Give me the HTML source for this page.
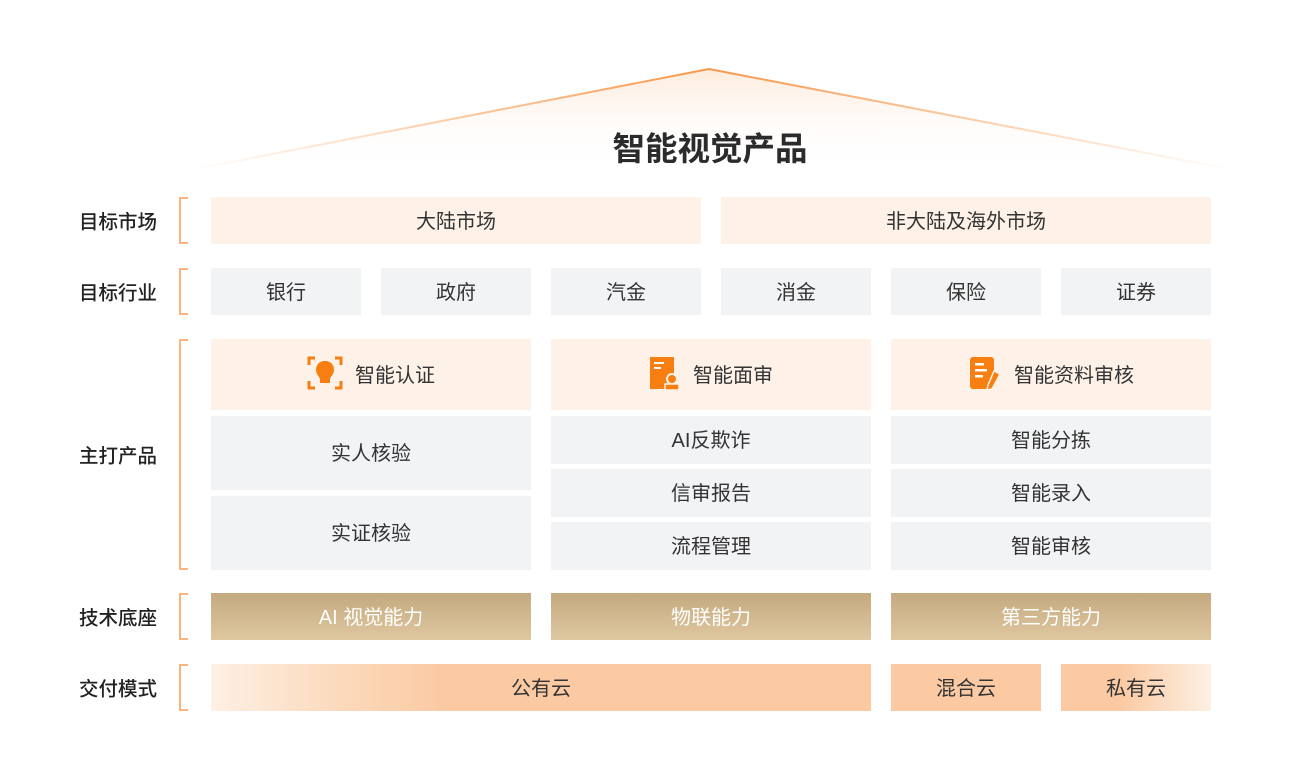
<!DOCTYPE html>
<html><head><meta charset="utf-8"><style>
body{margin:0;width:1295px;height:782px;background:#fff;position:relative;overflow:hidden;font-family:"Liberation Sans","Noto Sans CJK SC",sans-serif;color:#333}
.b{position:absolute;display:flex;align-items:center;justify-content:center;font-size:20px;color:#333;box-sizing:border-box;padding-bottom:3px}
.p{background:#fef1e8}.g{background:#f2f3f5}
.t{background:linear-gradient(#c3a97f,#dfc7a0);color:#fff}
.lab{position:absolute;left:79px;font-size:19.5px;color:#222;font-weight:500;transform:translateY(-50%);margin-top:-1px}
.br{position:absolute;left:179px;width:9px;border:2px solid #f9b47f;border-right:none;box-sizing:border-box}
</style></head><body>
<svg width="1295" height="200" style="position:absolute;left:0;top:0">
<defs>
<linearGradient id="f" x1="0" y1="0" x2="0" y2="1"><stop offset="0" stop-color="#fde9d8" stop-opacity=".9"/><stop offset="1" stop-color="#fff" stop-opacity="0"/></linearGradient>
<linearGradient id="sl" x1="190" y1="0" x2="709" y2="0" gradientUnits="userSpaceOnUse"><stop offset="0" stop-color="#f9a15b" stop-opacity="0"/><stop offset="1" stop-color="#f7974a"/></linearGradient>
<linearGradient id="sr" x1="709" y1="0" x2="1235" y2="0" gradientUnits="userSpaceOnUse"><stop offset="0" stop-color="#f7974a"/><stop offset="1" stop-color="#f9a15b" stop-opacity="0"/></linearGradient>
</defs>
<polygon points="190,170 709,69 1235,170" fill="url(#f)"/>
<line x1="190" y1="170" x2="709" y2="69" stroke="url(#sl)" stroke-width="2"/>
<line x1="709" y1="69" x2="1235" y2="170" stroke="url(#sr)" stroke-width="2"/>
</svg>
<div style="position:absolute;left:510px;width:400px;top:123px;text-align:center;font-size:32.5px;font-weight:bold;color:#2b2b2b">智能视觉产品</div>

<div class="lab" style="top:221px">目标市场</div><div class="br" style="top:197px;height:47px"></div>
<div class="lab" style="top:292px">目标行业</div><div class="br" style="top:268px;height:47px"></div>
<div class="lab" style="top:455px">主打产品</div><div class="br" style="top:339px;height:231px"></div>
<div class="lab" style="top:617px">技术底座</div><div class="br" style="top:593px;height:47px"></div>
<div class="lab" style="top:688px">交付模式</div><div class="br" style="top:664px;height:47px"></div>

<div class="b p" style="left:211px;top:197px;width:490px;height:47px">大陆市场</div>
<div class="b p" style="left:721px;top:197px;width:490px;height:47px">非大陆及海外市场</div>

<div class="b g" style="left:211px;top:268px;width:150px;height:47px">银行</div>
<div class="b g" style="left:381px;top:268px;width:150px;height:47px">政府</div>
<div class="b g" style="left:551px;top:268px;width:150px;height:47px">汽金</div>
<div class="b g" style="left:721px;top:268px;width:150px;height:47px">消金</div>
<div class="b g" style="left:891px;top:268px;width:150px;height:47px">保险</div>
<div class="b g" style="left:1061px;top:268px;width:150px;height:47px">证券</div>

<div class="b p" style="left:211px;top:339px;width:320px;height:71px">
<svg width="36" height="36" viewBox="0 0 36 36" style="margin-right:12px"><path d="M2 10V3h6M28 3h6v7M2 26v7h6M28 33h6v-7" stroke="#f77f12" stroke-width="3" fill="none"/><path d="M18 6c6 0 9 4 9 9 0 4-3 6-4 9v4H13v-4c-1-3-4-5-4-9 0-5 3-9 9-9z" fill="#f77f12"/></svg>智能认证</div>
<div class="b p" style="left:551px;top:339px;width:320px;height:71px">
<svg width="32" height="36" viewBox="0 0 32 36" style="margin-right:12px"><rect x="1" y="2" width="24" height="32" fill="#f77f12"/><rect x="5" y="7" width="10" height="2" fill="#fff"/><rect x="5" y="12" width="7" height="2" fill="#fff"/><circle cx="23" cy="24" r="5" fill="#f77f12" stroke="#fef1e8" stroke-width="2"/><rect x="16" y="29" width="14" height="6" fill="#f77f12" stroke="#fef1e8" stroke-width="1.5"/></svg>智能面审</div>
<div class="b p" style="left:891px;top:339px;width:320px;height:71px">
<svg width="36" height="36" viewBox="0 0 36 36" style="margin-right:10px"><rect x="2" y="2" width="24" height="32" rx="3" fill="#f77f12"/><rect x="7" y="8" width="9" height="2.5" fill="#fff"/><rect x="7" y="14" width="12" height="2.5" fill="#fff"/><rect x="7" y="20" width="8" height="2.5" fill="#fff"/><path d="M26 16l6 3-8 15-5 1 1-5z" fill="#f77f12" stroke="#fef1e8" stroke-width="1.5"/></svg>智能资料审核</div>

<div class="b g" style="left:211px;top:416px;width:320px;height:74px">实人核验</div>
<div class="b g" style="left:211px;top:496px;width:320px;height:74px">实证核验</div>
<div class="b g" style="left:551px;top:416px;width:320px;height:48px">AI反欺诈</div>
<div class="b g" style="left:551px;top:469px;width:320px;height:48px">信审报告</div>
<div class="b g" style="left:551px;top:522px;width:320px;height:48px">流程管理</div>
<div class="b g" style="left:891px;top:416px;width:320px;height:48px">智能分拣</div>
<div class="b g" style="left:891px;top:469px;width:320px;height:48px">智能录入</div>
<div class="b g" style="left:891px;top:522px;width:320px;height:48px">智能审核</div>

<div class="b t" style="left:211px;top:593px;width:320px;height:47px">AI 视觉能力</div>
<div class="b t" style="left:551px;top:593px;width:320px;height:47px">物联能力</div>
<div class="b t" style="left:891px;top:593px;width:320px;height:47px">第三方能力</div>

<div class="b" style="left:211px;top:664px;width:660px;height:47px;background:linear-gradient(90deg,#fdf0e4 0%,#fbd9bb 20%,#fbcaa3 35%,#fbcaa3 100%)">公有云</div>
<div class="b" style="left:891px;top:664px;width:150px;height:47px;background:#fbcaa3">混合云</div>
<div class="b" style="left:1061px;top:664px;width:150px;height:47px;background:linear-gradient(90deg,#fbcaa3 40%,#fdf0e4 100%)">私有云</div>
</body></html>
